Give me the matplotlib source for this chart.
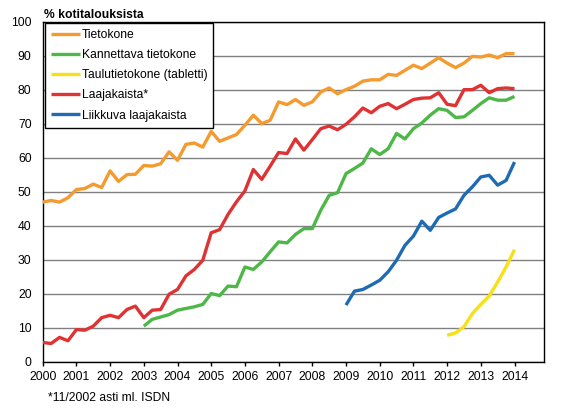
import matplotlib
matplotlib.use("Agg")
import matplotlib.pyplot as plt
import numpy as np

# Quarterly data, 2000 Q1 .. 2014 Q1 (57 quarters)
years = list(range(2000, 2015))
tietokone = [46.9, 47.4, 46.9, 48.2, 50.6, 50.9, 52.2, 51.2, 56.1, 53.0,
             55.0, 55.1, 57.7, 57.5, 58.2, 61.7, 59.2, 63.9, 64.3, 63.1,
             67.7, 64.8, 65.8, 66.8, 69.5, 72.5, 70.0, 71.0, 76.4, 75.6,
             77.1, 75.4, 76.4, 79.3, 80.5, 78.8, 80.0, 81.0, 82.5, 82.9,
             82.9, 84.5, 84.2, 85.7, 87.2, 86.2, 87.8, 89.4, 87.8, 86.5,
             87.8, 89.8, 89.6, 90.2, 89.4, 90.6, 90.6]
laajakaista = [5.6, 5.3, 7.1, 6.1, 9.4, 9.2, 10.4, 12.9, 13.6, 12.9,
               15.3, 16.3, 12.9, 15.1, 15.3, 19.8, 21.2, 25.2, 27.1, 29.8,
               37.9, 38.8, 43.3, 47.0, 50.2, 56.5, 53.6, 57.5, 61.5, 61.2,
               65.5, 62.2, 65.3, 68.5, 69.3, 68.2, 69.8, 72.0, 74.6, 73.2,
               75.1, 75.9, 74.4, 75.7, 77.1, 77.5, 77.6, 79.1, 75.7, 75.3,
               80.0, 80.0, 81.3, 79.1, 80.3, 80.5, 80.3]
# Kannettava tietokone from 2003 Q1 (index 12)
kannettava = [10.4, 12.4, 13.1, 13.8, 15.1, 15.6, 16.1, 16.8,
              20.0, 19.4, 22.2, 22.0, 27.8, 27.1, 29.3, 32.3, 35.2, 34.9,
              37.4, 39.1, 39.1, 44.5, 48.9, 49.7, 55.3, 56.8, 58.4, 62.6,
              60.9, 62.6, 67.1, 65.5, 68.5, 70.2, 72.5, 74.4, 73.9, 71.8,
              72.0, 73.9, 75.9, 77.6, 76.9, 76.9, 78.0]
# Liikkuva laajakaista from 2009 Q1 (index 36)
liikkuva = [16.6, 20.7, 21.2, 22.5, 23.9, 26.4, 29.8, 34.2, 36.9, 41.3,
            38.6, 42.4, 43.7, 44.9, 48.9, 51.4, 54.3, 54.8, 51.9, 53.3, 58.7]
# Taulutietokone from 2012 Q1 (index 48)
tabletti = [7.7, 8.4, 10.2, 14.1, 16.8, 19.3, 23.4, 27.8, 32.9]

labels = ["Tietokone", "Kannettava tietokone", "Taulutietokone (tabletti)",
          "Laajakaista*", "Liikkuva laajakaista"]
colors = ["#F59A2E", "#4DB748", "#F7E017", "#E03233", "#1F6BB3"]

plt.rcParams['font.family'] = ['Liberation Sans', 'DejaVu Sans']
fs = 8.7

fig = plt.figure(figsize=(5.69, 4.18), dpi=100)
W, H = 569, 418
left, right, top, bottom = 42.7, 544, 21.7, 361.5
ax = fig.add_axes([left / W, 1 - bottom / H, (right - left) / W, (bottom - top) / H])

def qx(start, n):
    return np.arange(start, start + n)

lw = 2.4
series = [
    (qx(0, len(tietokone)), tietokone),
    (qx(12, len(kannettava)), kannettava),
    (qx(48, len(tabletti)), tabletti),
    (qx(0, len(laajakaista)), laajakaista),
    (qx(36, len(liikkuva)), liikkuva),
]
handles = {}
for k in range(5):
    xs, ys = series[k]
    h, = ax.plot(xs, ys, color=colors[k], lw=lw, solid_joinstyle='round',
                 solid_capstyle='butt', label=labels[k], zorder=3)
    handles[k] = h

ax.set_xlim(0, 59.5)
ax.set_ylim(0, 100)
ax.set_yticks(range(0, 101, 10))
ax.set_xticks([4 * (y - 2000) for y in years])
ax.set_xticklabels([str(y) for y in years], fontsize=fs)
ax.tick_params(axis='y', length=0, pad=8, labelsize=fs)
ax.tick_params(axis='x', length=3, width=1, pad=4, direction='out')
ax.yaxis.grid(True, color='#808080', lw=1)
ax.set_axisbelow(True)
for s in ax.spines.values():
    s.set_color('black')
    s.set_linewidth(1)

leg = ax.legend([handles[k] for k in range(5)], labels, loc='upper left',
                bbox_to_anchor=(44.7 / W, 1 - 22.7 / H), bbox_transform=fig.transFigure,
                borderaxespad=0, fontsize=fs, handlelength=2.4, handletextpad=0.15,
                labelspacing=0.68, borderpad=0.5, fancybox=False, framealpha=1,
                edgecolor='black')
leg.get_frame().set_linewidth(1)
leg.set_zorder(5)

fig.text(44 / W, 1 - 18.5 / H, "% kotitalouksista", fontsize=fs, fontweight='bold',
         ha='left', va='baseline')
fig.text(48 / W, 1 - 398 / H, "*11/2002 asti ml. ISDN", fontsize=fs,
         ha='left', va='center')

fig.savefig("out.png", dpi=100)
